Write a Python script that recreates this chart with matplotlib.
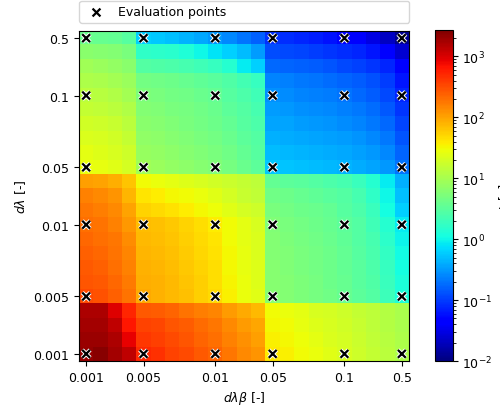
import numpy as np
import matplotlib
matplotlib.use('Agg')
import matplotlib.pyplot as plt
import matplotlib.patheffects as pe
from matplotlib.colors import LogNorm

# Evaluation points (same values on both axes)
dlb_values = ['0.001', '0.005', '0.01', '0.05', '0.1', '0.5']
dl_values = ['0.001', '0.005', '0.01', '0.05', '0.1', '0.5']
# cell index of each evaluation point on the 23x23 grid
point_idx = [0, 4, 9, 13, 18, 22]

# log10(t) on the refined grid, rows from dλ=0.001 (bottom) up to dλ=0.5 (top)
log_t = [
    [3.32, 3.38, 3.26, 3.12, 2.70, 2.65, 2.55, 2.50, 2.42, 2.35, 2.25, 2.15, 2.08, 1.60, 1.56, 1.50, 1.44, 1.38, 1.32, 1.26, 1.20, 1.12, 1.05],
    [3.29, 3.30, 3.20, 2.93, 2.62, 2.58, 2.50, 2.45, 2.37, 2.30, 2.20, 2.10, 2.03, 1.56, 1.52, 1.47, 1.41, 1.35, 1.30, 1.24, 1.18, 1.10, 1.04],
    [3.26, 3.26, 3.12, 2.80, 2.56, 2.52, 2.45, 2.40, 2.32, 2.25, 2.15, 2.05, 1.98, 1.52, 1.48, 1.43, 1.37, 1.32, 1.27, 1.22, 1.16, 1.09, 1.03],
    [3.20, 3.20, 2.98, 2.73, 2.42, 2.40, 2.36, 2.28, 2.22, 2.16, 2.05, 1.95, 1.87, 1.48, 1.45, 1.40, 1.33, 1.30, 1.25, 1.20, 1.15, 1.08, 1.02],
    [2.50, 2.47, 2.38, 2.28, 1.95, 1.92, 1.88, 1.82, 1.75, 1.68, 1.55, 1.45, 1.38, 0.80, 0.77, 0.73, 0.69, 0.64, 0.58, 0.52, 0.44, 0.30, 0.10],
    [2.45, 2.42, 2.34, 2.24, 1.94, 1.91, 1.87, 1.81, 1.74, 1.67, 1.54, 1.44, 1.37, 0.79, 0.76, 0.72, 0.68, 0.63, 0.57, 0.50, 0.42, 0.28, 0.08],
    [2.42, 2.38, 2.30, 2.20, 1.92, 1.89, 1.85, 1.79, 1.72, 1.65, 1.52, 1.43, 1.36, 0.78, 0.75, 0.71, 0.67, 0.62, 0.56, 0.49, 0.40, 0.26, 0.05],
    [2.38, 2.34, 2.28, 2.16, 1.90, 1.87, 1.83, 1.77, 1.70, 1.63, 1.51, 1.42, 1.35, 0.77, 0.74, 0.70, 0.66, 0.61, 0.55, 0.48, 0.38, 0.24, 0.02],
    [2.34, 2.30, 2.25, 2.12, 1.88, 1.85, 1.80, 1.75, 1.68, 1.61, 1.50, 1.41, 1.34, 0.76, 0.73, 0.69, 0.65, 0.60, 0.54, 0.46, 0.36, 0.20, -0.02],
    [2.30, 2.27, 2.20, 2.07, 1.85, 1.82, 1.78, 1.72, 1.65, 1.58, 1.48, 1.40, 1.33, 0.74, 0.71, 0.67, 0.63, 0.58, 0.52, 0.44, 0.33, 0.15, -0.06],
    [2.25, 2.22, 2.15, 2.00, 1.72, 1.68, 1.63, 1.58, 1.52, 1.46, 1.38, 1.30, 1.25, 0.70, 0.67, 0.63, 0.59, 0.55, 0.48, 0.40, 0.28, 0.05, -0.20],
    [2.20, 2.15, 2.08, 1.90, 1.62, 1.58, 1.52, 1.48, 1.44, 1.38, 1.30, 1.22, 1.18, 0.65, 0.62, 0.58, 0.54, 0.50, 0.44, 0.36, 0.22, 0.00, -0.30],
    [2.02, 2.00, 1.93, 1.80, 1.50, 1.45, 1.40, 1.36, 1.32, 1.28, 1.24, 1.20, 1.15, 0.55, 0.52, 0.49, 0.45, 0.41, 0.36, 0.28, 0.15, -0.05, -0.38],
    [1.45, 1.42, 1.38, 1.30, 0.95, 0.92, 0.88, 0.84, 0.80, 0.74, 0.68, 0.60, 0.52, -0.25, -0.27, -0.29, -0.31, -0.33, -0.36, -0.39, -0.43, -0.50, -0.70],
    [1.40, 1.37, 1.33, 1.25, 0.90, 0.87, 0.83, 0.79, 0.75, 0.70, 0.64, 0.56, 0.48, -0.31, -0.33, -0.35, -0.37, -0.39, -0.42, -0.46, -0.51, -0.58, -0.78],
    [1.34, 1.31, 1.27, 1.20, 0.85, 0.83, 0.79, 0.75, 0.71, 0.66, 0.60, 0.52, 0.44, -0.37, -0.39, -0.41, -0.43, -0.46, -0.49, -0.53, -0.59, -0.67, -0.86],
    [1.28, 1.25, 1.21, 1.14, 0.81, 0.79, 0.75, 0.71, 0.67, 0.62, 0.56, 0.48, 0.40, -0.43, -0.45, -0.48, -0.50, -0.53, -0.56, -0.61, -0.67, -0.76, -0.95],
    [1.20, 1.17, 1.13, 1.06, 0.77, 0.75, 0.71, 0.68, 0.64, 0.59, 0.52, 0.44, 0.36, -0.49, -0.51, -0.54, -0.56, -0.59, -0.63, -0.68, -0.74, -0.84, -1.03],
    [1.13, 1.10, 1.06, 0.99, 0.72, 0.70, 0.67, 0.64, 0.60, 0.55, 0.48, 0.40, 0.32, -0.55, -0.57, -0.60, -0.63, -0.66, -0.70, -0.75, -0.82, -0.92, -1.12],
    [1.05, 1.02, 0.98, 0.92, 0.66, 0.64, 0.61, 0.58, 0.54, 0.49, 0.42, 0.34, 0.25, -0.62, -0.64, -0.67, -0.70, -0.73, -0.78, -0.82, -0.88, -1.00, -1.20],
    [0.95, 0.92, 0.88, 0.82, 0.45, 0.43, 0.40, 0.37, 0.33, 0.25, 0.15, -0.05, -0.20, -0.75, -0.77, -0.80, -0.83, -0.87, -0.92, -0.97, -1.03, -1.12, -1.30],
    [0.82, 0.80, 0.76, 0.70, 0.22, 0.20, 0.17, 0.12, 0.00, -0.10, -0.20, -0.32, -0.48, -0.90, -0.93, -0.96, -1.00, -1.04, -1.08, -1.13, -1.20, -1.32, -1.60],
    [0.60, 0.58, 0.55, 0.48, -0.20, -0.25, -0.30, -0.35, -0.42, -0.50, -0.58, -0.70, -0.80, -1.05, -1.08, -1.12, -1.17, -1.22, -1.30, -1.40, -1.52, -1.68, -1.90],
]

t = 10.0 ** np.array(log_t)

plt.rcParams['font.size'] = 9

fig = plt.figure(figsize=(5.0, 4.1), dpi=100)
ax = fig.add_axes([0.158, 0.117, 0.66, 0.805])
cax = fig.add_axes([0.869, 0.117, 0.036, 0.807])

im = ax.imshow(t, origin='lower', cmap='jet', norm=LogNorm(vmin=1e-2, vmax=2.7e3),
               interpolation='nearest', aspect='auto')

# evaluation points on top of the map
px, py = np.meshgrid(point_idx, point_idx)
pts = ax.scatter(px.ravel(), py.ravel(), marker='x', color='black', s=32,
                 linewidths=1.6, zorder=3)
pts.set_path_effects([pe.withStroke(linewidth=3, foreground='white')])

ax.set_xticks(point_idx)
ax.set_xticklabels(dlb_values)
ax.set_yticks(point_idx)
ax.set_yticklabels(dl_values)
ax.set_xlabel(r'$d\lambda\beta$ [-]')
ax.set_ylabel(r'$d\lambda$ [-]')

handle = ax.scatter([], [], marker='x', color='black', s=32, linewidths=1.6)
ax.legend(handles=[handle], labels=['Evaluation points'],
          bbox_to_anchor=(0, 1.025, 1, 0.2), loc='lower left', mode='expand',
          borderaxespad=0, borderpad=0.35)

cbar = fig.colorbar(im, cax=cax)
cbar.set_label('t [s]')

fig.savefig('out.png', dpi=100)
